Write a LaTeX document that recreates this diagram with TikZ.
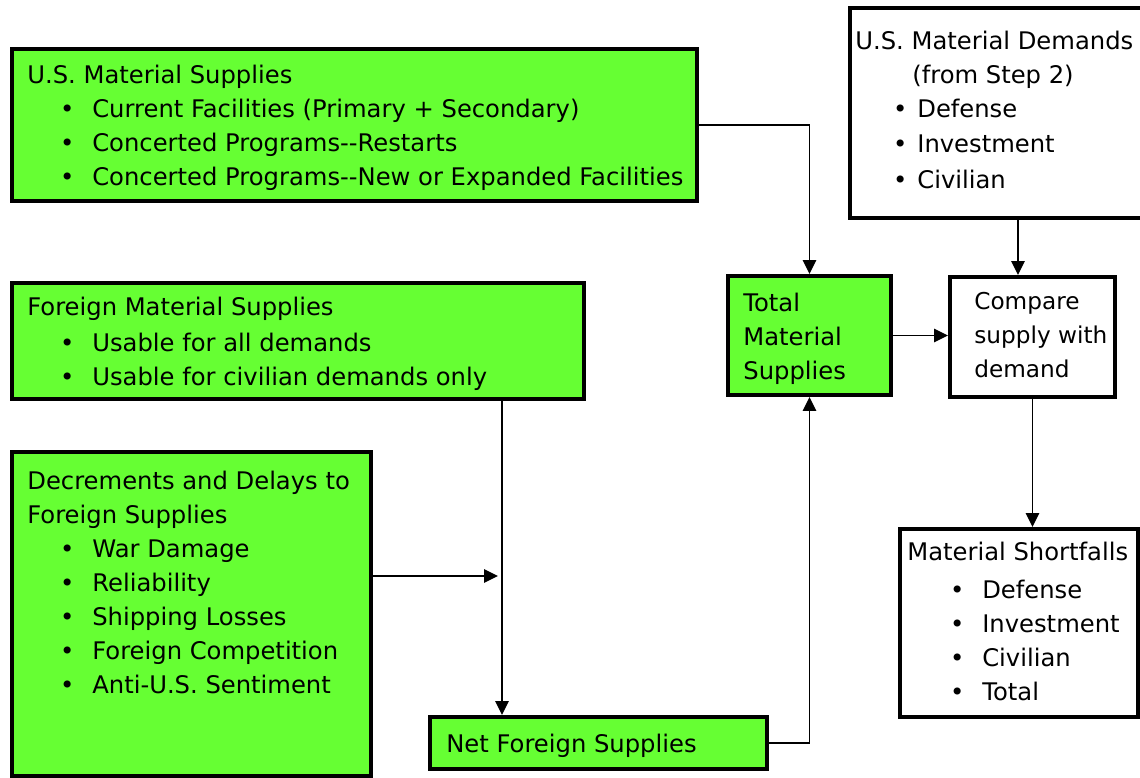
\documentclass[tikz,border=0pt]{standalone}
\usepackage{fontspec}
\setmainfont{DejaVu Sans}
\usetikzlibrary{arrows.meta}
\definecolor{boxgreen}{RGB}{102,255,51}
\newcommand{\bul}[2]{\hspace*{#1}\makebox[#2][c]{\textbullet}}

\begin{document}
\begin{tikzpicture}[x=0.02cm, y=-0.02cm]
\tikzset{gbox/.style={draw, fill=boxgreen, line width=0.08cm, inner sep=0pt},
  wbox/.style={draw, fill=white, line width=0.08cm, inner sep=0pt},
  txt/.style={anchor=north west, inner sep=0pt, align=left, font=\fontsize{13.8}{19.35}\selectfont},
  arr/.style={-{Triangle[length=0.28cm, width=0.27cm]}, line width=0.03cm}}
\useasboundingbox (0,0) rectangle (1140,778);
% boxes
\node[gbox, minimum width=13.7cm, minimum height=3.04cm] (us) at (354.5,125) {};
\node[gbox, minimum width=11.44cm, minimum height=2.32cm] (foreign) at (298,341) {};
\node[gbox, minimum width=7.18cm, minimum height=6.48cm] (dec) at (191.5,614) {};
\node[gbox, minimum width=6.74cm, minimum height=1.04cm] (net) at (598.5,743) {};
\node[gbox, minimum width=3.26cm, minimum height=2.38cm] (total) at (809.5,335.5) {};
\node[wbox, minimum width=3.3cm, minimum height=2.4cm] (compare) at (1032.5,337) {};
\node[wbox, minimum width=6cm, minimum height=4.2cm] (demands) at (1000,113) {};
\node[wbox, minimum width=4.76cm, minimum height=3.76cm] (short) at (1019,623) {};
% texts
\node[txt] (ust) at (27,65) {U.S. Material Supplies\\
  \bul{0.3cm}{1cm}Current Facilities (Primary + Secondary)\\
  \bul{0.3cm}{1cm}Concerted Programs-{}-Restarts\\
  \bul{0.3cm}{1cm}Concerted Programs-{}-New or Expanded Facilities};
\node[txt] (fort) at (27,297) {Foreign Material Supplies\\[0.04cm]
  \bul{0.3cm}{1cm}Usable for all demands\\
  \bul{0.3cm}{1cm}Usable for civilian demands only};
\node[txt] (dect) at (27,471) {Decrements and Delays to\\
  Foreign Supplies\\
  \bul{0.3cm}{1cm}War Damage\\
  \bul{0.3cm}{1cm}Reliability\\
  \bul{0.3cm}{1cm}Shipping Losses\\
  \bul{0.3cm}{1cm}Foreign Competition\\
  \bul{0.3cm}{1cm}Anti-U.S. Sentiment};
\node[txt] (nett) at (446,734) {Net Foreign Supplies};
\node[txt] (tott) at (743,293) {Total\\ Material\\ Supplies};
\node[txt, font=\fontsize{13.2}{19.35}\selectfont] (cmpt) at (974,292) {Compare\\ supply with\\ demand};
\node[txt] (demt) at (855,31) {U.S. Material Demands\\
  \hspace*{1.14cm}(from Step 2)\\
  \bul{0.56cm}{0.68cm}Defense\\[0.02cm]
  \bul{0.56cm}{0.68cm}Investment\\[0.04cm]
  \bul{0.56cm}{0.68cm}Civilian};
\node[txt] (sht) at (907,542) {Material Shortfalls\\[0.08cm]
  \bul{0.5cm}{1cm}Defense\\
  \bul{0.5cm}{1cm}Investment\\
  \bul{0.5cm}{1cm}Civilian\\
  \bul{0.5cm}{1cm}Total};
% connectors
\coordinate (join) at (502,576);
\draw[arr] (us.east) -| (total.north);
\draw[arr] ([xshift=-0.29cm]compare.north |- demands.south) -- ([xshift=-0.29cm]compare.north);
\draw[arr] (total.east) -- (total.east -| compare.west);
\draw[arr] (compare.south) -- (compare.south |- short.north);
\draw[arr] (foreign.south -| join) -- (net.north -| join);
\draw[arr, shorten >=0.08cm] (dec.east |- join) -- (join);
\draw[arr] (net.east) -| (total.south);
\end{tikzpicture}
\end{document}
